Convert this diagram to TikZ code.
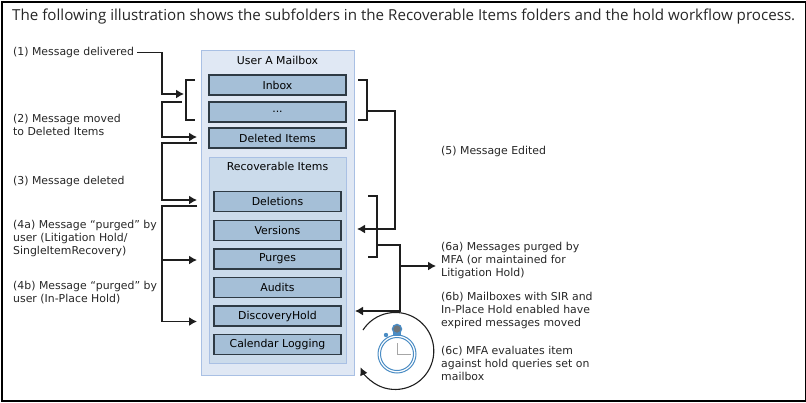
\documentclass[tikz,border=0pt]{standalone}
\usepackage{fontspec}
\setmainfont{DejaVu Sans}
\newfontfamily\titlefont{Open Sans}
\usetikzlibrary{arrows.meta}
\definecolor{mailfill}{HTML}{E0E8F4}
\definecolor{mailline}{HTML}{A9C0E4}
\definecolor{recfill}{HTML}{CBDBEB}
\definecolor{folderfill}{HTML}{A5BFD7}
\definecolor{folderline}{HTML}{2E3A44}
\definecolor{wire}{HTML}{1E1E1E}
\definecolor{watchblue}{HTML}{4A8CC4}
\tikzset{
  folder/.style={draw=folderline,line width=1.2pt,fill=folderfill,inner sep=0pt,font=\fontsize{10.9}{13}\selectfont},
  note/.style={anchor=north west,align=left,inner sep=0pt,font=\fontsize{10.9}{13}\selectfont,text=black!85},
  wireline/.style={draw=wire,line width=1.4pt},
  wirearrow/.style={wireline,-{Latex[length=8pt,width=9pt]}}
}
\begin{document}
\begin{tikzpicture}[x=1pt,y=-1pt]
  % Frame
  \useasboundingbox (0,0) rectangle (806,402);
  \node[draw=black,line width=2pt,minimum width=804pt,minimum height=399pt,inner sep=0pt,anchor=north west] (frame) at (1,1) {};
  \node[anchor=west,inner sep=0pt,font=\titlefont\fontsize{15.15}{18}\selectfont,text=black!85] (title) at (12,17)
  {The following illustration shows the subfolders in the Recoverable Items folders and the hold workflow process.};

  % Mailbox
  \node[draw=mailline,fill=mailfill,line width=1pt,minimum width=153pt,minimum height=325pt,inner sep=0pt,anchor=north west] (mailbox) at (201,50) {};
  \node[inner sep=0pt,font=\fontsize{10.9}{13}\selectfont] (mailboxlabel) at (277.5,60.5) {User A Mailbox};
  \node[folder,minimum width=137pt,minimum height=20pt] (inbox) at (277.5,85) {Inbox};
  \node[folder,minimum width=137pt,minimum height=20pt] (other) at (277.5,112) {...};
  \node[folder,minimum width=137pt,minimum height=20pt] (deleted) at (277.5,138) {Deleted Items};

  % Recoverable Items
  \node[draw=mailline,fill=recfill,line width=1pt,minimum width=137pt,minimum height=206pt,inner sep=0pt,anchor=north west] (recover) at (209,157) {};
  \node[inner sep=0pt,font=\fontsize{10.9}{13}\selectfont] (recoverlabel) at (277.5,166) {Recoverable Items};
  \foreach \name/\y/\txt in {deletions/201.5/Deletions,versions/230.5/Versions,purges/259/Purges,audits/287.5/Audits,hold/316/DiscoveryHold,calendar/344.5/Calendar Logging} {
    \node[folder,minimum width=127pt,minimum height=20pt] (\name) at (277.5,\y) {\txt};
  }

  % Left labels
  \node[note] (n1) at (13,47) {(1) Message delivered};
  \node[note] (n2) at (13,114) {(2) Message moved\\to Deleted Items};
  \node[note] (n3) at (13,176) {(3) Message deleted};
  \node[note] (n4a) at (13,220) {(4a) Message “purged” by\\user (Litigation Hold/\\SingleItemRecovery)};
  \node[note] (n4b) at (13,281) {(4b) Message “purged” by\\user (In-Place Hold)};

  % Right labels
  \node[note] (n5) at (441,146) {(5) Message Edited};
  \node[note] (n6a) at (441,242) {(6a) Messages purged by\\MFA (or maintained for\\Litigation Hold)};
  \node[note] (n6b) at (441,292) {(6b) Mailboxes with SIR and\\In-Place Hold enabled have\\expired messages moved};
  \node[note] (n6c) at (441,346) {(6c) MFA evaluates item\\against hold queries set on\\mailbox};

  % Free ends of the connectors
  \coordinate (a1) at (184,94);
  \coordinate (a2) at (182,102);
  \coordinate (a3) at (197,137);
  \coordinate (a4) at (197,143);
  \coordinate (a5) at (197,200);
  \coordinate (a6) at (197,206);
  \coordinate (a7) at (197,260);
  \coordinate (a8) at (197,321.5);
  \coordinate (b1) at (357,229);
  \coordinate (b2) at (355,311);
  \coordinate (b3) at (436,266);

  % Left arrows
  \draw[wireline] (195,80) -- (186,80) -- (186,120) -- (195,120);
  \draw[wirearrow] (n1.east) ++(3pt,0) -| (162,94) -- (a1);
  \draw[wirearrow] (a2) -| (162,137) -- (a3);
  \draw[wirearrow] (a4) -| (162,200) -- (a5);
  \draw[wirearrow] (a6) -| (162,321.5) -- (a8);
  \draw[wirearrow] (162,260) -- (a7);

  % Right arrows
  \draw[wireline] (358,80) -- (367,80) -- (367,120) -- (358,120);
  \draw[wirearrow] (367,111) -| (395,229) -- (b1);
  \draw[wireline] (368,196) -- (377,196) -- (377,257) -- (368,257);
  \draw[wirearrow] (377,245) -| (400,311) -- (b2);
  \draw[wirearrow] (400,266) -- (b3);

  % Stopwatch
  \draw[wire,line width=1.1pt,-{Latex[length=8pt,width=8pt]}] (363,330) arc[start angle=147,end angle=-155,radius=38.5pt];
  \draw[watchblue,line width=1pt,fill=white] (397,354) circle[radius=19pt];
  \draw[watchblue,line width=1pt] (397,354) circle[radius=16.5pt];
  \draw[gray!70,line width=1pt] (397,343) -- (397,354.5) -- (411,354.5);
  \fill[watchblue] (393,332) rectangle (401,336);
  \draw[watchblue,line width=1.4pt,fill=folderline!70] (397,329) circle[radius=4.5pt];
  \fill[watchblue] (386,335) circle[radius=2.2pt];
\end{tikzpicture}
\end{document}
